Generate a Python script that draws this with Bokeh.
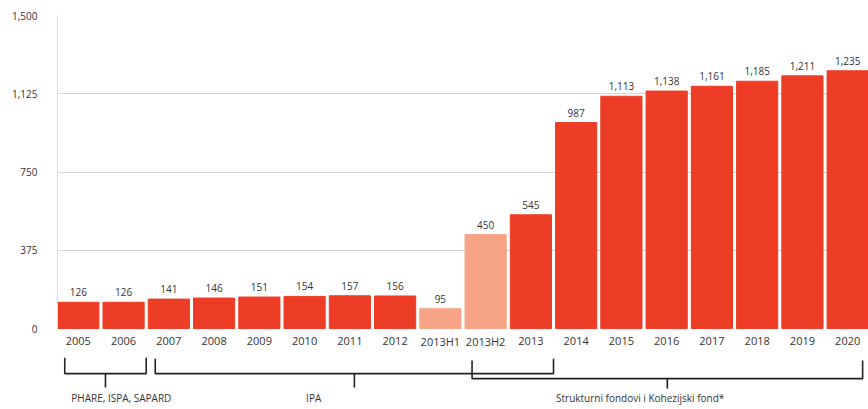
from bokeh.plotting import figure
from bokeh.models import Range1d, FixedTicker, NumeralTickFormatter, ColumnDataSource
from bokeh.core.properties import value
from bokeh.embed import file_html
from bokeh.resources import INLINE

# ---- data ----
categories = ["2005", "2006", "2007", "2008", "2009", "2010", "2011", "2012",
              "2013H1", "2013H2", "2013", "2014", "2015", "2016", "2017", "2018",
              "2019", "2020"]
amounts = [126, 126, 141, 146, 151, 154, 157, 156, 95, 450, 545, 987, 1113,
           1138, 1161, 1185, 1211, 1235]
y_ticks = [0, 375, 750, 1125, 1500]

bracket_labels = ["PHARE, ISPA, SAPARD", "IPA", "Strukturni fondovi i Kohezijski fond*"]
bracket_first = ["2005", "2007", "2013H2"]
bracket_last = ["2006", "2013", "2020"]

# ---- styles ----
RED = "#EE3D27"
LIGHT = "#F5A586"
FONT = "Open Sans"
TXT = "#333333"

idx = list(range(len(categories)))
colors = [LIGHT if "H" in c else RED for c in categories]
labels = [f"{v:,}" for v in amounts]

src = ColumnDataSource(dict(x=idx, top=amounts, color=colors, label=labels, cat=categories,
                            ycat=[-62] * len(idx)))

p = figure(width=868, height=409, output_backend="svg", toolbar_location=None,
           x_range=Range1d(-0.46, len(categories) - 0.54), y_range=Range1d(-388, 1500),
           min_border_left=57, min_border_right=0, min_border_top=15, min_border_bottom=0)
p.outline_line_color = None
p.background_fill_color = "white"

p.vbar(x="x", top="top", width=0.91, color="color", source=src)
p.text(x="x", y="top", text="label", source=src, text_align="center", text_baseline="bottom",
       y_offset=-6, text_font=value(FONT), text_font_size="10px", text_color=TXT)
p.text(x="x", y="ycat", text="cat", source=src, text_align="center", text_baseline="middle",
       text_font=value(FONT), text_font_size="11px", text_color=TXT)

# axes
p.xaxis.visible = False
p.xgrid.visible = False
yax = p.yaxis[0]
yax.ticker = FixedTicker(ticks=y_ticks)
yax.formatter = NumeralTickFormatter(format="0,0")
yax.bounds = (0, 1500)
yax.axis_line_color = "#dddddd"
yax.major_tick_line_color = None
yax.minor_tick_line_color = None
yax.major_label_standoff = 14
yax.major_label_text_font = FONT
yax.major_label_text_font_size = "10px"
yax.major_label_text_color = TXT
p.ygrid.ticker = FixedTicker(ticks=y_ticks[1:])
p.ygrid.grid_line_color = "#d4d4d4"

# brackets
pos = {c: i for i, c in enumerate(categories)}
top_y = [-140, -145, -153]
bar_y = [-216, -216, -240]
tick_y = [-283, -283, -288]
lab_off = [0.35, -0.9, -0.6]
for k, lab in enumerate(bracket_labels):
    left = pos[bracket_first[k]] - 0.3
    right = min(pos[bracket_last[k]] + 0.5, len(categories) - 0.67)
    mid = (left + right) / 2
    xs = [left, left, right, right]
    ys = [top_y[k], bar_y[k], bar_y[k], top_y[k]]
    p.line(xs, ys, line_color="#222222", line_width=1.6)
    p.line([mid, mid], [bar_y[k], tick_y[k]], line_color="#222222", line_width=1.6)
    p.text(x=[mid + lab_off[k]], y=[-335], text=[lab], text_align="center",
           text_baseline="middle", text_font=value(FONT), text_font_size="10px",
           text_color=TXT)

open("out.html", "w").write(file_html(p, INLINE))
